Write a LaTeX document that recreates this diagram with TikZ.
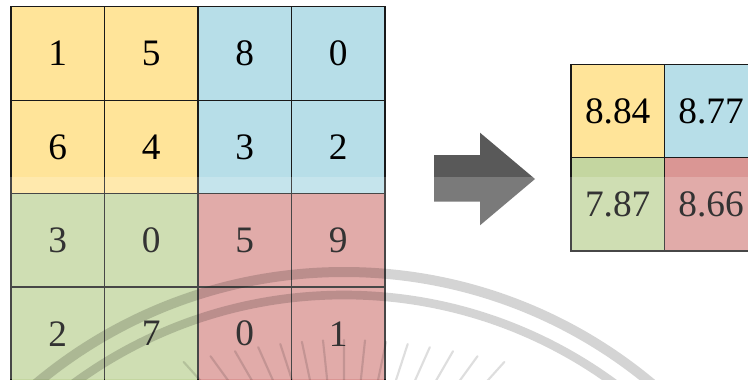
\documentclass[tikz,border=0pt]{standalone}
\usepackage{fontspec}
\setmainfont{LiberationSerif}[Extension=.ttf, UprightFont=*-Regular]
\usepackage{tikz}
\usetikzlibrary{positioning}

\definecolor{cellyellow}{RGB}{255,228,153}
\definecolor{cellblue}{RGB}{183,222,232}
\definecolor{cellgreen}{RGB}{196,214,160}
\definecolor{cellred}{RGB}{218,150,148}
\definecolor{arrowgray}{RGB}{89,89,89}

\tikzset{
  cell/.style={draw=black!90, line width=0.9pt, minimum width=70.1pt, minimum height=70pt,
    inner sep=0pt, outer sep=0pt, font=\fontsize{28}{30}\selectfont},
  bigcell/.style={cell, minimum width=70pt, minimum height=70pt},
  seal/.style={black, opacity=0.17},
  ray/.style={black, opacity=0.13, line width=1.6pt, line cap=round}
}

\begin{document}
\begin{tikzpicture}[x=0.75pt, y=-0.75pt]

    \useasboundingbox (0,0) rectangle (748,379);
    \clip (0,0) rectangle (748,379);

    % Input 4x4
    \node[cell, fill=cellyellow] (a11) at (57.75, 53.5) {1};
    \node[cell, fill=cellyellow] (a12) at (151.25, 53.5) {5};
    \node[cell, fill=cellblue]   (a13) at (244.75, 53.5) {8};
    \node[cell, fill=cellblue]   (a14) at (338.25, 53.5) {0};

    \node[cell, fill=cellyellow] (a21) at (57.75, 146.9) {6};
    \node[cell, fill=cellyellow] (a22) at (151.25, 146.9) {4};
    \node[cell, fill=cellblue]   (a23) at (244.75, 146.9) {3};
    \node[cell, fill=cellblue]   (a24) at (338.25, 146.9) {2};

    \node[cell, fill=cellgreen]  (a31) at (57.75, 240.3) {3};
    \node[cell, fill=cellgreen]  (a32) at (151.25, 240.3) {0};
    \node[cell, fill=cellred]    (a33) at (244.75, 240.3) {5};
    \node[cell, fill=cellred]    (a34) at (338.25, 240.3) {9};

    \node[cell, fill=cellgreen]  (a41) at (57.75, 333.7) {2};
    \node[cell, fill=cellgreen]  (a42) at (151.25, 333.7) {7};
    \node[cell, fill=cellred]    (a43) at (244.75, 333.7) {0};
    \node[cell, fill=cellred]    (a44) at (338.25, 333.7) {1};

    % Arrow
    \fill[arrowgray] (434,155) -- (480,155) -- (480,132.7) -- (535,179)
        -- (480,225.3) -- (480,201.7) -- (434,201.7) -- cycle;

    % Pooled 2x2
    \node[bigcell, fill=cellyellow] (b11) at (617.7, 111) {8.84};
    \node[bigcell, fill=cellblue]   (b12) at (711, 111) {8.77};
    \node[bigcell, fill=cellgreen]  (b21) at (617.7, 204.3) {7.87};
    \node[bigcell, fill=cellred]    (b22) at (711, 204.3) {8.66};


    % Seal in the background
    \fill[white, opacity=0.2] (0,177) rectangle (748,379);

    \draw[seal, line width=7.5pt] (344,752) circle[radius=480];
    \draw[seal, line width=6.5pt] (344,752) circle[radius=457];

    \draw[ray] (183.7,362) -- (204.4,385)  (210.5,356.2) -- (231.4,385)
               (235,351.2) -- (254.5,385)  (258.2,347.2) -- (275,385)
               (280.3,344) -- (293.6,385)  (301.9,341.8) -- (311,385)
               (323,340.4) -- (327.7,385)  (344,340) -- (344,385)
               (365,340.4) -- (360.3,385)  (386.1,341.8) -- (377,385)
               (407.7,344) -- (394.4,385)  (429.8,347.2) -- (413,385)
               (453,351.2) -- (433.5,385)  (477.5,356.2) -- (456.6,385)
               (504.3,362) -- (483.6,385);

\end{tikzpicture}
\end{document}
